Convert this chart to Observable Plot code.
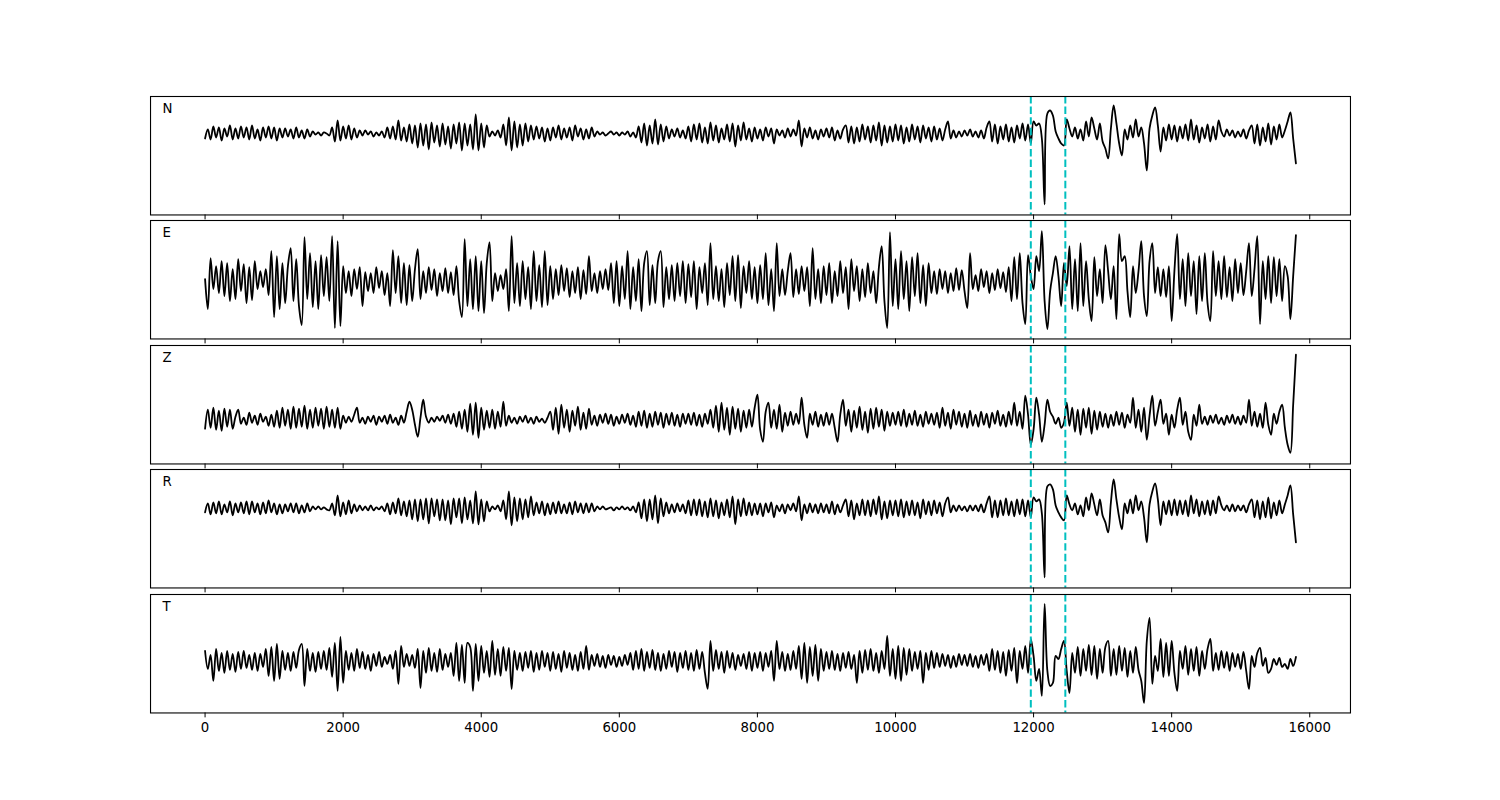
<!DOCTYPE html>
<html>
<head>
<meta charset="utf-8">
<script src="https://cdn.jsdelivr.net/npm/d3@7"></script>
<script src="https://cdn.jsdelivr.net/npm/@observablehq/plot@0.6"></script>
<style>
  html, body { margin: 0; padding: 0; background: #fff; }
  #chart { position: relative; width: 1500px; height: 800px; font-family: "DejaVu Sans", sans-serif; }
  #chart svg { position: absolute; left: 0; }
</style>
</head>
<body>
<div id="chart"></div>
<script>
// sample spacing of the traces (time units per sample), start at 0
const step = 40;
const xTicks = [0, 2000, 4000, 6000, 8000, 10000, 12000, 14000, 16000];
const picks = [11960, 12460];
const channels = ["N", "E", "Z", "R", "T"];

const N = [
-5,4,-6,7,-4,6,-7,5,-3,8,-6,5,-5,7,-4,6,-6,8,-5,4,-7,6,-4,7,-5,
6,-7,5,-4,5,-3,4,-5,6,-4,3,-5,4,-3,2,-1,1,-2,1,0,-2,6,-8,13,-7,
7,-5,8,-6,5,-4,3,-2,3,-1,2,-3,1,-2,2,-4,6,-5,7,-6,13,-7,6,-8,9,
-10,8,-14,10,-12,9,-16,11,-9,8,-13,10,-11,7,-15,9,-10,11,-17,10,-12,9,-16,19,-17,
10,-14,8,-3,2,-2,3,-4,9,-12,16,-17,12,-14,9,-12,10,-8,8,-6,7,-5,6,-8,5,
-7,6,-4,8,-6,5,-4,6,-7,8,-3,5,-6,4,-5,6,-3,2,-1,1,-2,0,2,-1,1,
-2,1,-1,2,-3,1,-4,7,-9,10,-12,8,-10,14,-11,9,-8,7,-5,4,-3,5,-4,3,-5,
7,-8,9,-6,10,-9,6,-10,11,-7,8,-9,5,-6,9,-8,10,-13,8,-7,11,-6,5,-8,6,
-5,4,-7,6,-3,5,-10,4,-2,3,-4,5,-3,4,-2,13,-13,5,-4,6,-5,3,-6,4,-3,
5,-4,6,-7,3,-5,4,8,-9,7,-10,6,-8,9,-6,7,-9,8,-7,11,-12,8,-9,7,-8,
9,-7,8,-10,6,-8,9,-6,7,-9,8,-5,6,-8,7,-6,5,-7,4,12,-5,3,-4,2,-3,
3,-2,4,-3,2,-4,3,-5,6,12,-8,9,-10,7,-6,9,-8,6,-9,8,-5,10,-7,9,-10,
12,8,10,-5,-71,20,23,18,2,-5,-10,-12,14,5,-3,6,-5,4,-7,12,-3,16,5,-6,10,
-8,-15,-25,5,28,10,-10,-22,4,-6,8,-4,14,-3,6,-10,-37,5,18,26,8,-18,6,-7,9,
-6,8,-8,7,-5,9,-7,14,-6,8,-9,6,-5,9,-8,7,-6,13,2,-3,4,-2,3,-4,2,
-3,4,-5,3,8,-10,9,-12,6,-8,10,-11,7,-6,9,-4,3,12,21,-5,-30
];

const E = [
2,-28,23,-8,15,-12,20,-15,18,-20,12,-18,22,-10,17,-22,14,-19,20,-8,10,-6,12,-14,30,
-36,25,-28,18,-22,15,33,-20,22,-25,-44,44,-18,28,-26,20,-28,26,-15,24,-20,45,-47,40,-45,
15,-12,10,-15,12,-8,14,-25,9,-10,8,-12,14,-7,10,-14,8,-25,31,-12,25,-22,18,-24,16,
-20,12,32,-18,10,-12,14,-9,12,-15,8,-10,13,-12,9,-14,15,-20,-36,42,-25,22,-28,25,-30,
20,-32,18,39,-20,8,-10,6,-8,12,-30,45,-22,18,-25,20,-18,14,-28,30,-20,16,-26,30,-24,
15,-18,12,-14,16,-10,13,-16,10,-12,14,-18,11,-13,25,-10,8,-12,10,-8,12,-9,18,-22,20,
-25,15,-18,30,-28,14,-20,22,-30,18,30,-24,16,-22,20,30,-26,14,-18,16,-20,18,-15,20,-22,
17,-16,20,-28,14,-12,18,-24,38,-18,15,-20,12,-26,18,-14,25,-20,26,-27,15,-12,20,-18,14,
-22,16,-18,28,-24,12,-30,38,-15,12,-14,10,28,-16,12,-13,15,-10,14,-25,33,-18,12,-22,15,
-14,18,-22,10,-15,20,-12,14,-28,22,-10,15,-20,12,-16,18,-12,10,-22,14,35,-20,-47,49,-25,
22,-28,30,-18,20,-30,24,-15,28,-22,16,-25,18,-12,10,-13,12,-8,10,-12,8,-10,13,-9,11,
-10,-27,28,-8,6,-10,12,-6,10,-12,8,-9,12,-7,9,-11,14,-20,24,-18,28,-22,-43,26,5,
-8,25,10,50,-20,-48,-10,8,25,5,-25,18,-5,35,-28,22,-30,38,-25,20,-18,-40,24,-15,12,
-22,36,10,-18,15,-38,47,20,25,-10,-36,15,-12,10,40,-15,-35,20,38,-12,14,-15,12,-16,15,
-40,10,47,-18,22,-25,28,-15,20,-33,25,-20,28,-22,-40,30,-15,20,-18,25,-16,14,-20,22,-12,
18,-14,10,38,-15,12,45,-43,20,-18,25,-22,24,-15,22,-20,15,5,-38,5,46
];

const Z = [
-9,10,-8,12,-10,9,-11,11,-7,10,-9,3,10,-4,2,-5,7,-3,4,-5,6,-2,3,-6,5,
-7,9,-8,12,-6,10,-9,13,-8,11,-7,14,-9,10,-8,12,-6,11,-9,13,-7,10,-8,12,-9,
4,-3,3,-2,5,12,-3,2,-4,3,-2,4,-5,3,-2,4,-4,5,-3,2,-5,4,-3,8,18,
10,-5,-17,2,20,3,-3,2,-2,3,-1,4,-3,5,-4,6,-7,8,-9,10,-12,16,-15,17,-18,
12,-10,9,-8,10,-9,8,-7,18,-6,4,-3,2,-4,3,-2,4,-3,2,-4,3,-2,1,-3,2,
8,-10,12,-14,15,-8,10,-12,9,-6,13,-10,7,-9,11,-5,4,-6,5,-3,6,-4,5,-6,3,
-4,5,-3,6,-5,4,-7,8,-6,9,-8,6,-7,8,-5,7,-8,6,-5,7,-6,5,-7,6,-4,
6,-5,7,-6,5,-7,6,-4,10,-8,14,-12,17,-10,12,-15,13,-9,11,-12,9,-8,10,-7,12,
25,-10,-22,8,17,-8,10,-9,15,-12,7,-6,8,-5,6,-4,22,-5,-18,6,-5,8,-7,5,-6,
7,-5,6,-8,-22,5,20,-6,10,-12,9,-8,13,-10,8,-13,11,-9,12,-7,10,-11,8,-6,7,
-5,8,-6,10,-7,6,-5,9,-6,5,-7,8,-4,6,-5,7,-8,12,-6,7,-9,10,-5,8,-7,
6,-8,9,-6,5,-7,8,-5,6,-8,7,-4,9,-6,5,-7,8,-5,17,-6,8,-9,24,5,-25,
-10,22,5,-22,-5,20,8,3,-4,2,-8,-3,17,-6,12,-12,10,-15,11,-8,12,-14,9,-10,8,
-7,6,-8,5,-6,8,-5,7,-8,5,-3,22,-8,10,-12,12,-20,4,24,-6,8,20,-4,6,-15,
5,-8,10,22,-5,8,-12,-20,5,-6,15,-4,3,-5,4,-3,5,-4,2,-5,4,-3,5,-4,3,
-5,4,-3,20,-6,8,-7,6,-8,17,-5,-15,6,-4,8,15,-8,-25,-33,15,65
];

const R = [
-4,5,-6,6,-5,7,-6,4,-4,7,-7,5,-4,6,-5,7,-6,7,-4,5,-6,6,-5,8,-4,
5,-6,4,-5,4,-3,5,-4,5,-5,3,-4,5,-3,2,-1,2,-1,1,-1,-2,5,-7,13,-8,
6,-6,8,-5,4,-3,3,-2,2,-2,3,-2,1,-1,2,-3,5,-6,6,-5,10,-7,7,-8,8,
-11,9,-13,9,-11,10,-15,10,-8,9,-12,9,-12,8,-16,10,-9,10,-15,11,-11,8,-15,17,-16,
9,-13,7,-3,2,-1,3,-3,8,-11,17,-17,11,-13,10,-11,9,-9,12,-7,6,-5,7,-7,5,
-6,6,-5,7,-5,4,-5,6,-6,7,-4,5,-5,5,-4,5,-3,2,-1,2,-1,0,1,-2,1,
-1,2,-1,1,-2,2,-4,6,-10,9,-13,9,-11,13,-15,10,-8,6,-5,4,-4,5,-3,4,-5,
8,-7,9,-7,9,-8,7,-9,10,-8,8,-10,6,-7,9,-9,12,-16,9,-8,10,-7,6,-7,5,
-6,5,-8,5,-4,6,-9,3,-3,4,-5,4,-2,5,-3,12,-12,4,-5,5,-4,4,-5,5,-4,
4,-5,7,-6,4,-4,3,9,-8,8,-11,5,-7,9,-7,8,-8,9,-6,12,-11,7,-10,8,-7,
8,-8,9,-9,7,-7,8,-7,6,-10,9,-6,7,-7,8,-5,6,-8,5,11,-4,3,-3,3,-2,
2,-3,3,-2,3,-3,4,-4,5,12,-9,8,-9,8,-7,10,-7,7,-8,9,-6,9,-8,8,-9,
11,7,9,-5,-69,22,24,19,3,-4,-9,-12,13,4,-2,5,-6,3,-8,11,-2,15,4,-7,9,
-7,-14,-24,6,29,9,-9,-21,5,-5,9,-5,13,-2,7,-9,-34,4,17,25,9,-17,7,-6,8,
-7,9,-7,8,-6,8,-8,13,-5,9,-8,7,-6,8,-7,8,-5,12,3,-2,3,-3,4,-3,3,
-2,3,-4,4,9,-9,8,-11,7,-9,11,-10,6,-7,8,-5,4,13,23,-6,-34
];

const T = [
10,-8,6,-20,12,-10,8,-12,10,-9,7,-11,9,-8,10,-7,6,-9,8,-10,7,-6,12,-15,14,
-20,17,-18,10,-9,8,-10,9,-7,11,17,-25,12,-10,8,-11,9,-8,10,-9,13,-16,18,-30,24,
-22,10,-9,8,-10,12,-7,9,-8,6,-10,7,-5,9,-6,4,-3,6,-8,10,-23,15,-6,7,-5,
6,-7,12,-27,10,-12,13,-10,8,-11,12,-9,7,-6,8,-15,18,-20,16,-22,18,14,-30,17,-20,
15,-12,10,-16,20,-14,12,-15,14,-10,13,-28,10,-9,8,-10,9,-7,10,-11,8,-9,10,-6,8,
-10,9,-8,7,-11,10,-7,8,-9,6,-10,9,-8,15,-9,6,-5,7,-6,5,-7,6,-4,5,-6,
4,-5,6,-4,8,-9,10,-8,12,-10,9,-7,11,-9,8,-10,7,-8,10,-6,9,-11,8,-7,10,
-9,8,-10,11,-8,9,-12,-28,20,-10,11,-8,9,-12,10,-7,8,-9,6,-5,7,-8,9,-10,8,
-7,9,-10,8,-6,10,-20,20,-8,9,-10,7,-9,10,-8,15,-18,18,-22,14,-15,16,-20,12,-10,
9,-8,10,-9,7,-10,8,-7,9,-8,6,-22,10,-12,11,-9,12,-10,8,-12,10,-8,25,-15,12,
-18,15,-20,13,-14,12,-10,9,-8,10,-22,8,-9,10,-7,8,-6,7,-5,6,-7,5,-6,7,-4,
6,-5,7,-6,5,-7,6,-4,7,-10,12,-9,10,-12,9,-15,11,-10,13,-22,10,-8,15,-12,22,
5,-20,-8,-35,57,-10,-25,-22,5,2,12,20,-10,-32,8,-12,14,-15,12,-10,16,-14,15,-18,12,
-12,14,20,-15,12,-14,15,-10,13,-16,10,-12,14,-9,-20,-42,20,43,-23,5,-10,22,-16,18,-15,
20,-12,-30,10,-8,15,-14,12,-10,14,-15,10,-8,12,22,-10,8,-9,10,-7,9,-10,8,-6,7,
-8,9,-10,-28,5,-6,8,13,-5,3,-12,-8,2,-4,3,-6,-3,-8,2,-5,4
];

const series = [N, E, Z, R, T];

// layout of the five stacked panels (matplotlib-like subplots)
const panelTops = [96, 220.38, 344.77, 469.15, 593.54];
const panelH = 118.46;
const yDomains = [[-81.5, 37], [-57.9, 60.6], [-44.2, 74.2], [-79.6, 38.9], [-52, 66.5]];

const root = document.getElementById("chart");

channels.forEach((ch, i) => {
  const data = series[i].map((v, k) => ({t: k * step, v}));
  const last = i === channels.length - 1;
  const mt = 6, mb = last ? 40 : 12;
  const svg = Plot.plot({
    width: 1500,
    height: panelH + mt + mb,
    marginLeft: 150,
    marginRight: 150,
    marginTop: mt,
    marginBottom: mb,
    x: {domain: [-790, 16590]},
    y: {domain: yDomains[i], axis: null},
    style: {fontFamily: "DejaVu Sans", fontSize: "13.33px", color: "black", background: "transparent", overflow: "visible"},
    marks: [
      Plot.line(data, {x: "t", y: "v", stroke: "black", strokeWidth: 1.8, curve: "catmull-rom"}),
      Plot.ruleX(picks, {stroke: "#00bfbf", strokeWidth: 2, strokeDasharray: "7.4,3.2"}),
      Plot.frame({stroke: "black", strokeWidth: 1.1}),
      Plot.axisX({
        ticks: xTicks,
        tickSize: 4.9,
        tickPadding: 4.9,
        tickFormat: last ? (d => String(d)) : (() => ""),
        fontSize: 13.33,
        label: null,
        stroke: "black",
        fill: "black"
      }),
      Plot.text([ch], {
        text: d => d,
        frameAnchor: "top-left",
        dx: 12, dy: 12.4,
        textAnchor: "start",
        lineAnchor: "middle",
        fontSize: 13.33,
        fill: "black"
      })
    ]
  });
  svg.style.top = (panelTops[i] - mt) + "px";
  root.appendChild(svg);
});
</script>
</body>
</html>
